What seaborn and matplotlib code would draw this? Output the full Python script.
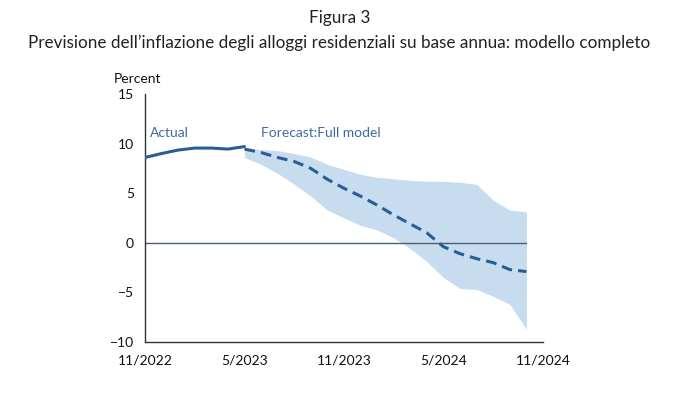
import matplotlib
matplotlib.use("Agg")
import matplotlib.pyplot as plt
import seaborn as sns
import pandas as pd
import numpy as np

# Data (month index 0 = 11/2022)
actual_months = [0, 1, 2, 3, 4, 5, 6]
actual_values = [8.6, 9.0, 9.35, 9.55, 9.55, 9.45, 9.7]

fc_months = list(range(6, 24))
fc_values = [9.45, 9.1, 8.6, 8.2, 7.5, 6.4, 5.5, 4.7, 3.8, 2.8, 1.9, 1.0, -0.4, -1.1, -1.6, -2.0, -2.7, -2.9]
fc_upper = [9.5, 9.4, 9.3, 9.0, 8.65, 7.9, 7.4, 6.9, 6.6, 6.45, 6.3, 6.2, 6.2, 6.1, 5.9, 4.3, 3.3, 3.1]
fc_lower = [8.6, 7.9, 7.0, 5.9, 4.7, 3.3, 2.5, 1.75, 1.3, 0.5, -0.6, -1.9, -3.5, -4.6, -4.7, -5.4, -6.2, -8.7]

tick_pos = [0, 6, 12, 18, 24]
tick_labels = ["11/2022", "5/2023", "11/2023", "5/2024", "11/2024"]
minor_pos = [3, 9, 15, 21]
yticks = [-10, -5, 0, 5, 10, 15]

title1 = "Figura 3"
title2 = "Previsione dell\u2019inflazione degli alloggi residenziali su base annua: modello completo"

sns.set_theme(style="white")
plt.rcParams['font.family'] = ['Lato', 'DejaVu Sans']

dark = "#2b5d94"
band = "#c8dcef"
txt = "#3b6aa6"

fig = plt.figure(figsize=(6.79, 3.98), dpi=100)
ax = fig.add_axes([0.2135, 0.1407, 0.7997 - 0.2135, 0.7638 - 0.1407])

ax.fill_between(fc_months, fc_lower, fc_upper, color=band, linewidth=0, zorder=1)
ax.plot([0, 23], [0, 0], color="#4a5f73", linewidth=1.0, zorder=2)

df_a = pd.DataFrame({"m": actual_months, "v": actual_values})
df_f = pd.DataFrame({"m": fc_months, "v": fc_values})
sns.lineplot(data=df_a, x="m", y="v", ax=ax, color=dark, linewidth=2.2, zorder=3)
sns.lineplot(data=df_f, x="m", y="v", ax=ax, color=dark, linewidth=2.2,
             linestyle=(0, (3.5, 2)), zorder=3)

ax.set_xlim(0, 24)
ax.set_ylim(-10, 15)
ax.set_xticks(tick_pos)
ax.set_xticklabels(tick_labels)
ax.set_xticks(minor_pos, minor=True)
ax.set_yticks(yticks)
ax.set_xlabel("")
ax.set_ylabel("")

for s in ["top", "right"]:
    ax.spines[s].set_visible(False)
for s in ["left", "bottom"]:
    ax.spines[s].set_color("#333333")
    ax.spines[s].set_linewidth(1.0)

ax.tick_params(axis="both", which="both", direction="out", color="#333333",
               labelcolor="#111111", labelsize=10)
ax.tick_params(axis="x", which="major", length=5, width=1, pad=4)
ax.tick_params(axis="x", which="minor", length=4, width=1)
ax.tick_params(axis="y", which="major", length=4, width=1, pad=4)

ax.text(-0.078, 1.035, "Percent", transform=ax.transAxes, fontsize=10,
        color="#111111", ha="left", va="bottom")
ax.text(0.3, 10.5, "Actual", color=txt, fontsize=10, ha="left", va="bottom")
ax.text(7.0, 10.5, "Forecast:Full model", color=txt, fontsize=10, ha="left", va="bottom")

fig.text(0.5, 0.955, title1, ha="center", va="center", fontsize=12.3, color="#222222")
fig.text(0.5, 0.893, title2, ha="center", va="center", fontsize=12.3, color="#222222")

fig.savefig("out.png", dpi=100)
